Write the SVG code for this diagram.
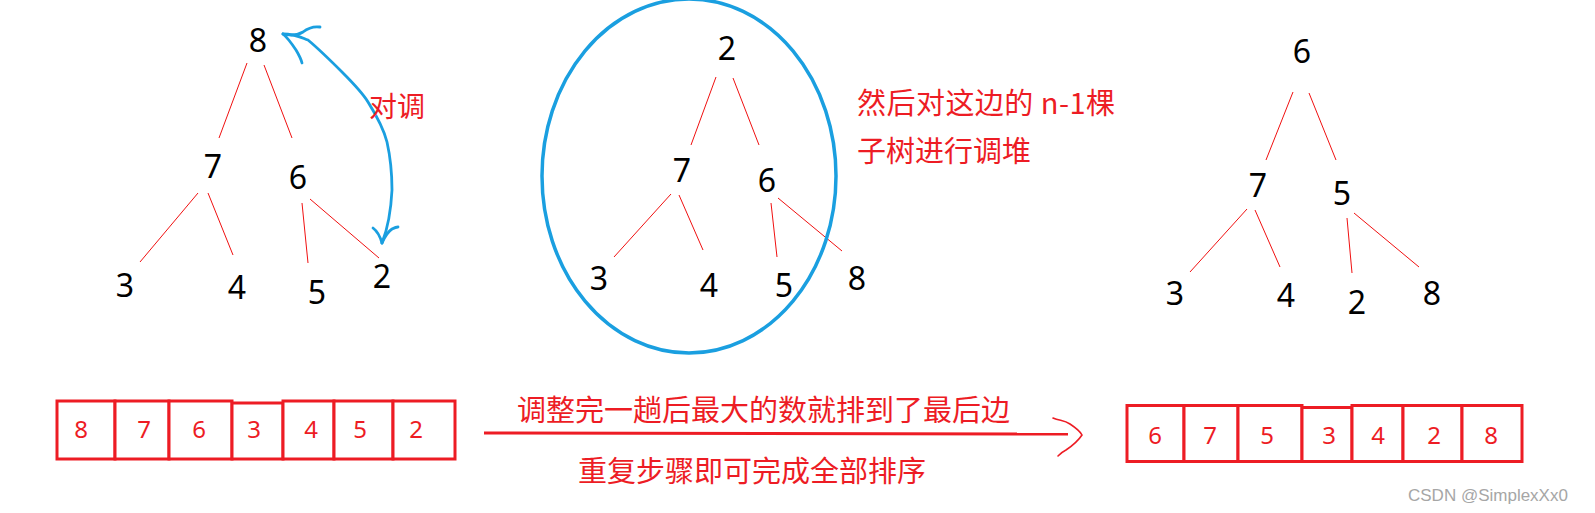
<svg xmlns="http://www.w3.org/2000/svg" width="1595" height="513" viewBox="0 0 1595 513">
<style>
.n{font-family:"Noto Sans","DejaVu Sans",sans-serif;font-size:32px;fill:#000;text-anchor:middle}
.e{stroke:#f01010;stroke-width:1;fill:none}
.cell{fill:#fff;stroke:#ed1c24;stroke-width:3}
.cv{font-family:"Noto Sans","DejaVu Sans",sans-serif;font-size:24px;fill:#ed1c24;text-anchor:middle}
.cn{font-family:"Noto Sans CJK SC","Noto Sans",sans-serif;fill:#ed1c24}
.blue{stroke:#1a9fe0;fill:none;stroke-linecap:round;stroke-linejoin:round}
</style>
<rect width="1595" height="513" fill="#fff"/>

<g id="connectors">
  <!-- left tree -->
  <line class="e" x1="247" y1="63" x2="219" y2="138"/>
  <line class="e" x1="264" y1="65" x2="292" y2="138"/>
  <line class="e" x1="198" y1="193" x2="140" y2="262"/>
  <line class="e" x1="208" y1="193" x2="233" y2="255"/>
  <line class="e" x1="302" y1="203" x2="308" y2="263"/>
  <line class="e" x1="310" y1="199" x2="379" y2="258"/>
  <!-- middle tree -->
  <line class="e" x1="716" y1="77" x2="691" y2="145"/>
  <line class="e" x1="733" y1="78" x2="759" y2="145"/>
  <line class="e" x1="671" y1="194" x2="614" y2="257"/>
  <line class="e" x1="679" y1="195" x2="703" y2="250"/>
  <line class="e" x1="771" y1="203" x2="777" y2="257"/>
  <line class="e" x1="778" y1="198" x2="842" y2="251"/>
  <!-- right tree -->
  <line class="e" x1="1293" y1="92" x2="1266" y2="160"/>
  <line class="e" x1="1309" y1="93" x2="1336" y2="160"/>
  <line class="e" x1="1247" y1="209" x2="1190" y2="272"/>
  <line class="e" x1="1255" y1="210" x2="1280" y2="267"/>
  <line class="e" x1="1347" y1="218" x2="1352" y2="273"/>
  <line class="e" x1="1354" y1="213" x2="1419" y2="267"/>
  <!-- swap arrow (blue, hand drawn) -->
  <path class="blue" stroke-width="2.8" d="M283,34 C295,34 300,37 308,40 C320,50 332,62 342,72 C352,82 362,92 368,102 C378,118 384,130 387,142 C391,160 392,175 392,190 C391,210 388,228 382,243"/>
  <path class="blue" stroke-width="2.8" d="M283,34 C288,38 292,44 296,50 C299,55 301,59 302,63"/>
  <path class="blue" stroke-width="2.8" d="M283,34 C292,36 298,35 303,32 C308,28 313,26 320,27"/>
  <path class="blue" stroke-width="2.8" d="M382,243 C380,236 377,231 373,228"/>
  <path class="blue" stroke-width="2.8" d="M382,243 C385,236 389,231 392,229 C394,228 396,227 398,227"/>
  <!-- subtree ellipse -->
  <ellipse class="blue" stroke-width="3.5" cx="689" cy="176" rx="147" ry="177"/>
  <!-- big arrow -->
  <path d="M484,433 L1068,434" stroke="#ed1c24" stroke-width="3" fill="none"/>
  <path d="M1053,418 C1060,421 1064,420 1070,424 C1076,428 1080,431 1082,435 C1078,441 1072,446 1066,450 C1062,452 1060,454 1058,456" stroke="#ed1c24" stroke-width="1.6" fill="none" stroke-linecap="round"/>
</g>

<g id="tree1">
  <g id="t1-8"><text class="n" x="258" y="51.5">8</text></g>
  <g id="t1-7"><text class="n" x="213" y="178">7</text></g>
  <g id="t1-6"><text class="n" x="298" y="188.5">6</text></g>
  <g id="t1-3"><text class="n" x="125" y="296.5">3</text></g>
  <g id="t1-4"><text class="n" x="237" y="298.5">4</text></g>
  <g id="t1-5"><text class="n" x="317" y="303.5">5</text></g>
  <g id="t1-2"><text class="n" x="382" y="287.5">2</text></g>
  <g id="swap-label"><text class="cn" x="369" y="117" font-size="28">对调</text></g>
</g>

<g id="tree2">
  <g id="t2-2"><text class="n" x="727" y="59.5">2</text></g>
  <g id="t2-7"><text class="n" x="682" y="181.5">7</text></g>
  <g id="t2-6"><text class="n" x="767" y="191.5">6</text></g>
  <g id="t2-3"><text class="n" x="599" y="289.5">3</text></g>
  <g id="t2-4"><text class="n" x="709" y="296.5">4</text></g>
  <g id="t2-5"><text class="n" x="784" y="296.5">5</text></g>
  <g id="t2-8"><text class="n" x="857" y="289.5">8</text></g>
  <g id="note"><text class="cn" x="857" y="114" font-size="29" textLength="258" lengthAdjust="spacing">然后对这边的 n-1棵</text>
  <text class="cn" x="857" y="162" font-size="29">子树进行调堆</text></g>
</g>

<g id="tree3">
  <g id="t3-6"><text class="n" x="1302" y="62.5">6</text></g>
  <g id="t3-7"><text class="n" x="1258" y="196.5">7</text></g>
  <g id="t3-5"><text class="n" x="1342" y="204.5">5</text></g>
  <g id="t3-3"><text class="n" x="1175" y="304.5">3</text></g>
  <g id="t3-4"><text class="n" x="1286" y="306.5">4</text></g>
  <g id="t3-2"><text class="n" x="1357" y="313.5">2</text></g>
  <g id="t3-8"><text class="n" x="1432" y="304.5">8</text></g>
</g>

<g id="array1">
  <rect class="cell" x="57" y="401" width="58" height="58"/>
  <rect class="cell" x="115" y="401" width="54" height="58"/>
  <rect class="cell" x="169" y="401" width="63" height="58"/>
  <rect class="cell" x="232" y="403" width="51" height="56"/>
  <rect class="cell" x="283" y="401" width="51" height="58"/>
  <rect class="cell" x="334" y="401" width="59" height="58"/>
  <rect class="cell" x="393" y="401" width="62" height="58"/>
  <text class="cv" x="81" y="437.5">8</text>
  <text class="cv" x="144" y="437.5">7</text>
  <text class="cv" x="199" y="437.5">6</text>
  <text class="cv" x="254" y="437.5">3</text>
  <text class="cv" x="311" y="437.5">4</text>
  <text class="cv" x="360" y="437.5">5</text>
  <text class="cv" x="416" y="437.5">2</text>
</g>

<g id="caption">
  <text class="cn" x="517" y="421" font-size="29">调整完一趟后最大的数就排到了最后边</text>
  <text class="cn" x="578" y="482" font-size="29">重复步骤即可完成全部排序</text>
</g>

<g id="array2">
  <rect class="cell" x="1127" y="405.5" width="57" height="56"/>
  <rect class="cell" x="1184" y="405.5" width="54" height="56"/>
  <rect class="cell" x="1238" y="405.5" width="64" height="56"/>
  <rect class="cell" x="1302" y="407.5" width="50" height="54"/>
  <rect class="cell" x="1352" y="405.5" width="51" height="56"/>
  <rect class="cell" x="1403" y="405.5" width="59" height="56"/>
  <rect class="cell" x="1462" y="405.5" width="60" height="56"/>
  <text class="cv" x="1155" y="443.5">6</text>
  <text class="cv" x="1210" y="443.5">7</text>
  <text class="cv" x="1267" y="443.5">5</text>
  <text class="cv" x="1329" y="443.5">3</text>
  <text class="cv" x="1378" y="443.5">4</text>
  <text class="cv" x="1434" y="443.5">2</text>
  <text class="cv" x="1491" y="443.5">8</text>
</g>

<text x="1408" y="501" font-family="Liberation Sans,Arial,sans-serif" font-size="17" fill="#a6a6a6">CSDN @SimplexXx0</text>
</svg>
